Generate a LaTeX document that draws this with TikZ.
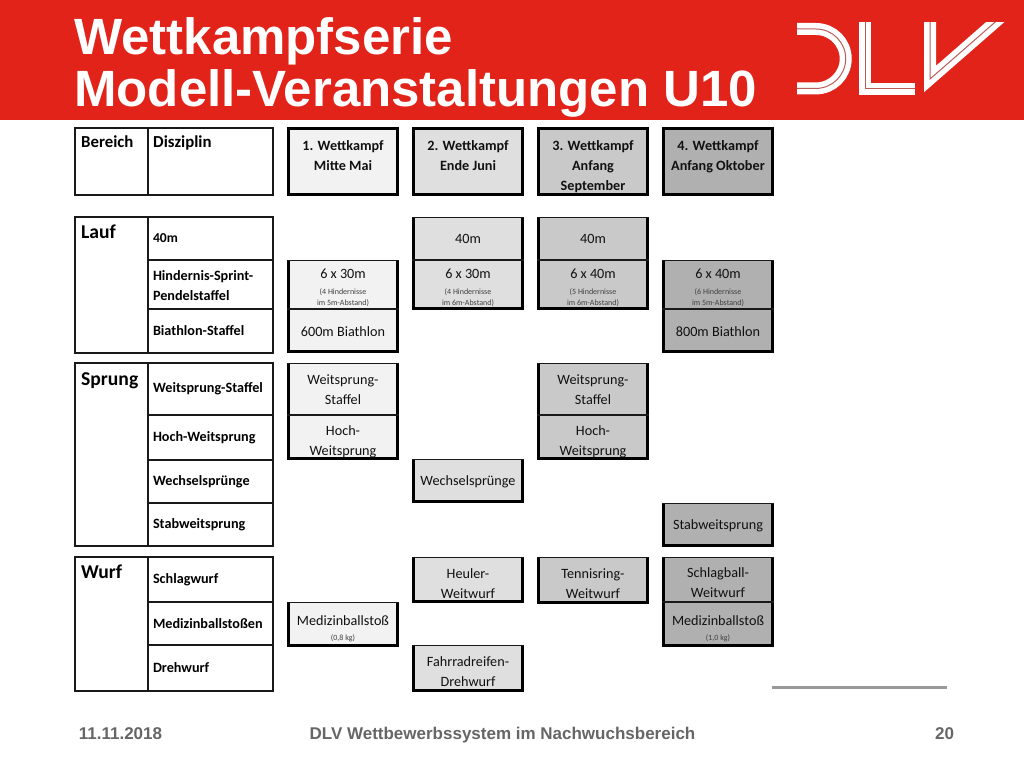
\documentclass[tikz,border=0pt]{standalone}
\usepackage{fontspec}
\setmainfont{Carlito}
\newfontfamily\arialf{Liberation Sans}
\definecolor{dlvred}{HTML}{E2231A}
\definecolor{footgray}{HTML}{666666}
\definecolor{fa}{HTML}{F2F2F2}
\definecolor{fb}{HTML}{DFDFDF}
\definecolor{fc}{HTML}{C9C9C9}
\definecolor{fd}{HTML}{B0B0B0}
\definecolor{txt}{HTML}{111111}
\newcommand{\smalltxt}{\fontsize{8}{10}\selectfont\color{black!75}}
\tikzset{
  x=1pt,y=-1pt,
  cellbox/.style={inner sep=0pt},
  celltext/.style={inner sep=0pt,align=center,text=txt,font=\fontsize{14.2}{20}\selectfont},
  headbox/.style={celltext,font=\fontsize{14.2}{20}\selectfont\bfseries},
  rowbox/.style={draw=black!90,line width=1.5pt,inner xsep=5pt,inner ysep=0pt,align=left,text=black,
    font=\fontsize{14.2}{20}\selectfont\bfseries},
  domainbox/.style={draw=black!90,line width=1.5pt,inner sep=0pt},
  hlabel/.style={anchor=base west,inner sep=0pt,font=\fontsize{16.8}{18}\selectfont\bfseries},
  dlabel/.style={anchor=base west,inner sep=0pt,font=\fontsize{19.6}{22}\selectfont\bfseries},
  side/.style={line width=3pt,draw=black},
  thinrule/.style={line width=1.5pt,draw=black!90},
  thickrule/.style={line width=2.8pt,draw=black},
  titlefont/.style={anchor=base west,inner sep=0pt,text=white,font=\arialf\fontsize{51}{52}\selectfont\bfseries},
  footfont/.style={anchor=base,inner sep=0pt,text=footgray,font=\arialf\fontsize{17}{18}\selectfont\bfseries},
  logoband/.style={draw=white,line width=12pt,miter limit=20},
  logoline/.style={draw=dlvred!70!black,line width=1pt,opacity=.7,miter limit=20},
}
% \frm{top}{bottom}: sides plus the top and bottom rule
\newcommand{\frm}[2]{%
  \draw[side] ([xshift=1.5pt]#1.north west) -- ([xshift=1.5pt]#2.south west);
  \draw[side] ([xshift=-1.5pt]#1.north east) -- ([xshift=-1.5pt]#2.south east);
  \draw[thinrule] ([yshift=-.7pt]#1.north west) -- ([yshift=-.7pt]#1.north east);
  \draw[thickrule] ([yshift=1.4pt]#2.south west) -- ([yshift=1.4pt]#2.south east);}
\newcommand{\divd}[1]{\draw[thinrule] (#1.south west) -- (#1.south east);}
% \rowc{name}{y1}{y2}{text}
\newcommand{\rowc}[4]{%
  \pgfmathsetmacro\ch{#3-#2}\pgfmathsetmacro\cy{(#2+#3)/2}%
  \node[rowbox,minimum height=\ch pt,text width=115pt] (#1) at (210.5,\cy) {#4};}
\newcommand{\domc}[3]{%
  \pgfmathsetmacro\ch{#3-#2}\pgfmathsetmacro\cy{(#2+#3)/2}%
  \node[domainbox,minimum width=73pt,minimum height=\ch pt] (#1) at (111.5,\cy) {};}
% box and text: \bx[text shift]{name}{x}{y1}{y2}{fill}{text}
\newcommand{\bx}[7][0.5]{%
  \pgfmathsetmacro\ch{#5-#4}\pgfmathsetmacro\cy{(#4+#5)/2}%
  \node[cellbox,fill=#6,minimum width=112pt,minimum height=\ch pt] (#2) at (#3+56,\cy) {};
  \node[celltext,yshift=-#1 pt] (#2t) at (#2.center) {#7};}
\begin{document}
\begin{tikzpicture}
\useasboundingbox (0,0) rectangle (1024,768);
\fill[white] (0,0) rectangle (1024,768);
\fill[dlvred] (0,0) rectangle (1024,120);
\node[titlefont] (t1) at (74,54.5) {Wettkampfserie};
\node[titlefont] (t2) at (74,106.5) {Modell-Veranstaltungen U10};
% logo
\begin{scope}
  \clip (790,23) rectangle (1010,96);
  \foreach \st in {logoband,logoline}{
    \draw[\st] (797,29) -- (816,29) arc[start angle=-90,end angle=90,radius=29.7] -- (797,88.4);
    \draw[\st] (865,20) -- (865,88.5) -- (915,88.5);
    \draw[\st] (930,15) -- (930,79) -- (1001,17);
  }
\end{scope}
% left table
\domc{bereich}{128}{195}
\rowc{disziplin}{128}{195}{}
\node[hlabel] (lb) at (81,147) {Bereich};
\node[hlabel] (ld) at (153,147) {Disziplin};
\domc{lauf}{217}{353}
\rowc{r40}{217}{260}{\fontsize{13.6}{20}\selectfont 40m}
\rowc{rhind}{260}{309}{\rule{0pt}{12pt}Hindernis-Sprint-\\Pendelstaffel}
\rowc{rbia}{309}{353}{Biathlon-Staffel}
\node[dlabel] (ll) at (81,238) {Lauf};
\domc{sprung}{363}{546}
\rowc{rws}{363}{415}{\raisebox{3pt}{Weitsprung-Staffel}}
\rowc{rhw}{415}{460}{Hoch-Weitsprung}
\rowc{rwe}{460}{503}{Wechselsprünge}
\rowc{rst}{503}{546}{Stabweitsprung}
\node[dlabel] (ls) at (81,385) {Sprung};
\domc{wurf}{557}{691}
\rowc{rsw}{557}{602}{Schlagwurf}
\rowc{rmb}{602}{645}{Medizinballstoßen}
\rowc{rdw}{645}{691}{Drehwurf}
\node[dlabel] (lw) at (81,578) {Wurf};
% headers
\bx{ha}{287}{127.5}{195.5}{fa}{}
\bx{hb}{412}{127.5}{195.5}{fb}{}
\bx{hc}{537}{127.5}{195.5}{fc}{}
\bx{hd}{662}{127.5}{195.5}{fd}{}
\node[headbox] (hat) at (343,169) {1. Wettkampf\\Mitte Mai\\\strut};
\node[headbox] (hbt) at (468,169) {2. Wettkampf\\Ende Juni\\\strut};
\node[headbox] (hct) at (593,167) {3. Wettkampf\\Anfang\\September};
\node[headbox] (hdt) at (718,169) {4. Wettkampf\\Anfang Oktober\\\strut};
\foreach \h in {ha,hb,hc,hd}{\frm{\h}{\h}
  \draw[side] ([yshift=-1.5pt]\h.north west) -- ([yshift=-1.5pt]\h.north east);}
% column 1
\bx[3]{a1}{287}{260}{309}{fa}{6 x 30m\\[-4pt]{\smalltxt (4 Hindernisse}\\[-9pt]{\smalltxt im 5m-Abstand)}}
\bx{a2}{287}{309}{353}{fa}{600m Biathlon}
\frm{a1}{a2}\divd{a1}
\bx[1]{a3}{287}{363}{415}{fa}{Weitsprung-\\Staffel}
\bx[4.5]{a4}{287}{415}{460}{fa}{Hoch-\\Weitsprung}
\frm{a3}{a4}\divd{a3}
\bx[4]{a5}{287}{602}{647}{fa}{Medizinballstoß\\[-5pt]{\smalltxt (0,8 kg)}}
\frm{a5}{a5}
% column 2
\bx{b1}{412}{217}{260}{fb}{40m}
\bx[2.5]{b2}{412}{260}{310}{fb}{6 x 30m\\[-4pt]{\smalltxt (4 Hindernisse}\\[-9pt]{\smalltxt im 6m-Abstand)}}
\frm{b1}{b2}\divd{b1}
\bx{b3}{412}{459}{503}{fb}{Wechselsprünge}
\frm{b3}{b3}
\bx[3.5]{b4}{412}{557}{603}{fb}{Heuler-\\Weitwurf}
\frm{b4}{b4}
\bx[3]{b5}{412}{645}{692}{fb}{Fahrradreifen-\\Drehwurf}
\frm{b5}{b5}
% column 3
\bx{c1}{537}{217}{260}{fc}{40m}
\bx[2.5]{c2}{537}{260}{310}{fc}{6 x 40m\\[-4pt]{\smalltxt (5 Hindernisse}\\[-9pt]{\smalltxt im 6m-Abstand)}}
\frm{c1}{c2}\divd{c1}
\bx[1]{c3}{537}{363}{415}{fc}{Weitsprung-\\Staffel}
\bx[4.5]{c4}{537}{415}{460}{fc}{Hoch-\\Weitsprung}
\frm{c3}{c4}\divd{c3}
\bx[3.5]{c5}{537}{557}{604}{fc}{Tennisring-\\Weitwurf}
\frm{c5}{c5}
% column 4
\bx[3]{d1}{662}{260}{309}{fd}{6 x 40m\\[-4pt]{\smalltxt (6 Hindernisse}\\[-9pt]{\smalltxt im 5m-Abstand)}}
\bx{d2}{662}{309}{353}{fd}{800m Biathlon}
\frm{d1}{d2}\divd{d1}
\bx{d3}{662}{503}{547}{fd}{Stabweitsprung}
\frm{d3}{d3}
\bx[3.5]{d4}{662}{557}{602}{fd}{Schlagball-\\Weitwurf}
\bx[4]{d5}{662}{602}{647}{fd}{Medizinballstoß\\[-5pt]{\smalltxt (1,0 kg)}}
\frm{d4}{d5}\divd{d4}
% rule bottom right
\coordinate (ra) at (772,687.5);
\coordinate (rb) at (947,687.5);
\draw[line width=3.5pt,draw=black!40] (ra) -- (rb);
% footer
\node[footfont] (f1) at (120.5,739) {11.11.2018};
\node[footfont] (f2) at (502.5,739) {DLV Wettbewerbssystem im Nachwuchsbereich};
\node[footfont] (f3) at (944.5,739) {20};
\end{tikzpicture}
\end{document}
